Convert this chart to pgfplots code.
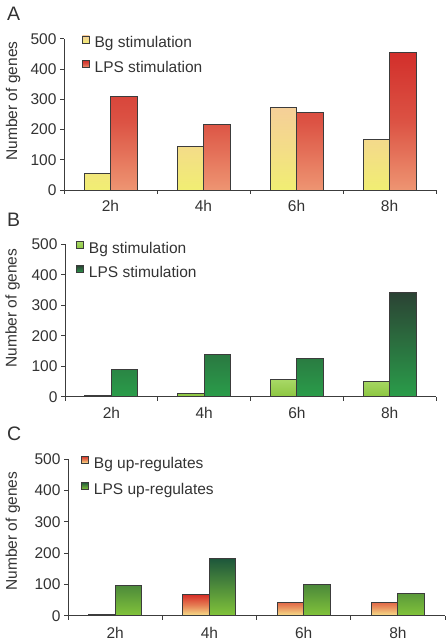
\documentclass[border=0pt]{standalone}
\usepackage{pgfplots}
\pgfplotsset{compat=1.18}
\usepackage{fontspec}
\setmainfont{Liberation Sans}
\newcommand\fs{\fontsize{15.5bp}{18bp}\selectfont}
\newcommand\fl{\fontsize{19.5bp}{22bp}\selectfont}
\definecolor{txt}{HTML}{333333}
\definecolor{axc}{HTML}{3C3C3C}
\definecolor{AbgT}{HTML}{F5CF98}\definecolor{AbgB}{HTML}{F1EE73}
\definecolor{AlpT}{HTML}{D22F2B}\definecolor{AlpB}{HTML}{EE9572}
\definecolor{BbgT}{HTML}{A8D866}\definecolor{BbgB}{HTML}{8CC640}
\definecolor{BlpT}{HTML}{2B4334}\definecolor{BlpB}{HTML}{2A9D4A}
\definecolor{CbgT}{HTML}{D72F28}\definecolor{CbgB}{HTML}{F7E08A}
\definecolor{ClpT}{HTML}{1D563B}\definecolor{ClpB}{HTML}{82C43A}
\pgfplotsset{
  sqlegend/.style={legend image code/.code={\draw[##1, draw=axc, line width=0.8bp] (0bp,1bp) rectangle (7bp,8bp);}},
  panel/.style={
    scale only axis,
    anchor=south west,
    xmin=0.5, xmax=4.5, ymin=0, ymax=500,
    axis x line*=bottom, axis y line*=left,
    axis line style={-, draw=axc, line width=0.9bp},
    every tick/.style={draw=axc, line width=0.9bp},
    tick align=outside,
    major tick length=4bp, minor tick length=4bp,
    ytick={0,100,200,300,400,500},
    xtick={1,2,3,4}, xticklabels={2h,4h,6h,8h},
    major x tick style={draw=none},
    minor xtick={0.5,1.5,2.5,3.5,4.5},
    /pgf/number format/assume math mode=true,
    ticklabel style={font=\fs, text=txt},
    xticklabel style={yshift=-3bp},
    ylabel={Number of genes},
    ylabel style={font=\fs, text=txt, anchor=center},
    ybar=0pt, bar width=26.5bp,
    every axis plot post/.append style={sqlegend},
    legend cell align=left,
    legend style={draw=none, fill=none, inner sep=0pt, outer sep=0pt, anchor=west,
      font=\fs, text=txt, row sep=8bp,
      /tikz/every odd column/.style={column sep=4bp},
      nodes={inner sep=1bp, text height=11bp, text depth=3bp}},
  },
  barstyle/.style n args={3}{draw=axc, line width=0.8bp, top color=#1, bottom color=#2, middle color=#3},
}
\begin{document}
\begin{tikzpicture}
\useasboundingbox (0,0) rectangle (446bp,644bp);
% Panel A
\begin{axis}[panel, at={(64bp,454bp)}, width=372bp, height=151.3bp,
  ylabel style={at={(axis description cs:-0.137,0.588)}},
  legend style={at={(rel axis cs:0.048,0.886)}}]
\addplot[barstyle={AbgT}{AbgB}{AbgT!55!AbgB}] coordinates {(1,55) (2,143) (3,273) (4,168)};
\addplot[barstyle={AlpT}{AlpB}{AlpT!65!AlpB}] coordinates {(1,310) (2,218) (3,257) (4,454)};
\legend{Bg stimulation, LPS stimulation}
\end{axis}
% Panel B
\begin{axis}[panel, at={(65bp,247.3bp)}, width=371bp, height=152.3bp,
  ylabel style={at={(axis description cs:-0.141,0.582)}},
  legend style={at={(rel axis cs:0.030,0.888)}}]
\addplot[barstyle={BbgT}{BbgB}{BbgT!50!BbgB}] coordinates {(1,3) (2,10) (3,56) (4,51)};
\addplot[barstyle={BlpT}{BlpB}{BlpT!50!BlpB}] coordinates {(1,88) (2,139) (3,127) (4,342)};
\legend{Bg stimulation, LPS stimulation}
\end{axis}
% Panel C
\begin{axis}[panel, at={(68bp,28.3bp)}, width=377bp, height=156.4bp,
  ylabel style={at={(axis description cs:-0.146,0.541)}},
  xticklabel style={yshift=-1.5bp},
  legend style={at={(rel axis cs:0.035,0.887)}, row sep=9.7bp}]
\addplot[barstyle={CbgT}{CbgB}{CbgT!55!CbgB}] coordinates {(1,3) (2,67) (3,42) (4,42)};
\addplot[barstyle={ClpT}{ClpB}{ClpT!50!ClpB}] coordinates {(1,97) (2,183) (3,101) (4,71)};
\legend{Bg up-regulates, LPS up-regulates}
\end{axis}
\node[anchor=base west, inner sep=0pt, font=\fl, text=txt] at (7bp,623bp) {A};
\node[anchor=base west, inner sep=0pt, font=\fl, text=txt] at (7bp,417bp) {B};
\node[anchor=base west, inner sep=0pt, font=\fl, text=txt] at (7bp,203bp) {C};
\end{tikzpicture}
\end{document}
